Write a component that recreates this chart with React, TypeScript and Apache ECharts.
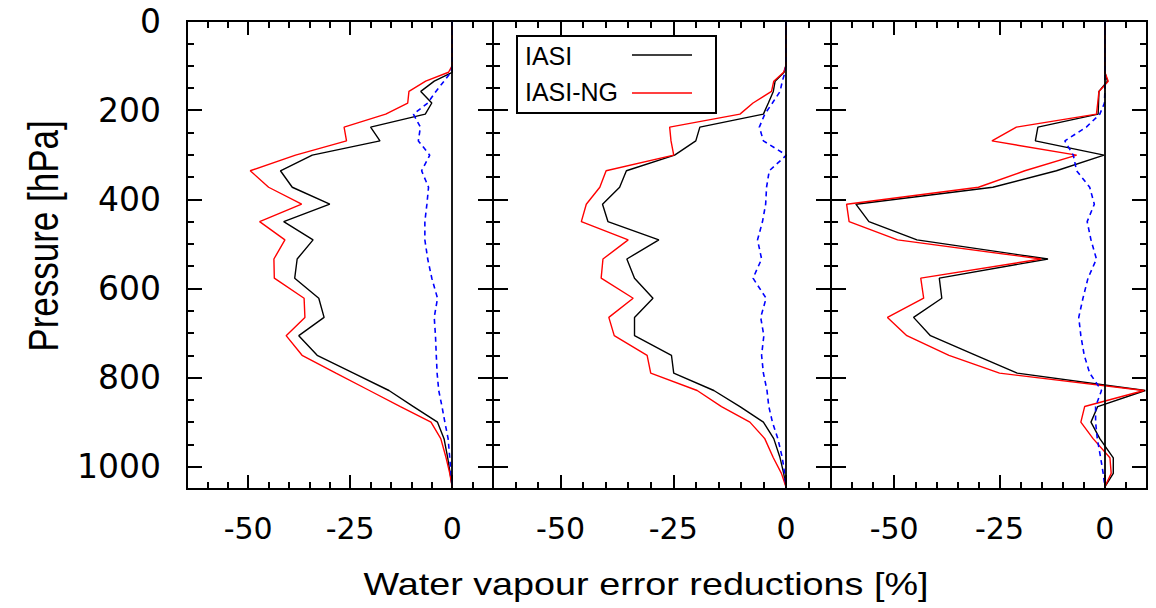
import React, { useEffect, useRef } from "react";
import * as echarts from "echarts";

// Pressure levels [hPa] shared by all profiles
const PRESSURE = [0, 100, 115, 135, 158, 184, 209, 238, 269, 301, 336, 373, 411, 450, 491, 534, 577, 622, 665, 706, 750, 790, 829, 865, 900, 937, 980, 1015, 1045];

// Panel 1
const IASI_1 = [0, 0, 0, -4.4, -7.7, -5.0, -6.6, -20.0, -17.7, -34.3, -42.1, -39.2, -30.0, -41.3, -34.1, -38.0, -38.6, -32.7, -31.4, -37.6, -33.1, -24.2, -15.5, -9.5, -3.6, -2.0, -1.1, -0.5, 0];
const IASING_1 = [0, 0, -0.9, -6.5, -10.6, -10.9, -16.3, -26.5, -25.9, -38.4, -49.5, -45.0, -36.9, -47.2, -41.0, -43.7, -43.6, -36.3, -36.1, -40.7, -36.8, -28.5, -20.3, -12.7, -5.2, -2.8, -1.5, -0.6, 0];
const DIFF_1 = [0, 0, -0.3, -2.0, -4.0, -6.0, -9.5, -7.8, -8.3, -5.5, -7.5, -5.8, -6.2, -6.7, -6.7, -6.0, -5.0, -3.6, -4.4, -4.1, -3.9, -3.7, -3.3, -2.5, -1.8, -1.0, -0.6, -0.3, 0];

// Panel 2
const IASI_2 = [0, 0, -0.4, -2.4, -2.8, -3.9, -5.0, -19.1, -20.0, -24.7, -35.4, -36.9, -40.7, -39.5, -28.2, -35.3, -33.6, -29.5, -33.6, -33.6, -25.4, -24.9, -16.0, -10.2, -5.0, -2.7, -1.3, -0.5, 0];
const IASING_2 = [0, 0, -0.5, -2.7, -3.2, -7.3, -10.2, -25.8, -25.5, -24.9, -39.9, -41.3, -44.3, -45.4, -35.0, -40.6, -41.0, -33.9, -39.3, -38.1, -30.8, -30.0, -19.7, -14.3, -8.0, -4.7, -2.8, -1.0, 0];
const DIFF_2 = [0, 0, -0.2, -0.8, -1.3, -3.0, -4.7, -5.9, -5.0, 0.1, -3.7, -4.3, -4.5, -5.2, -6.3, -5.4, -7.3, -4.4, -5.6, -4.9, -5.4, -5.0, -4.2, -3.8, -3.0, -1.8, -0.8, -0.3, 0];

// Panel 3
const IASI_3 = [0, 0, 0, 0.6, -1.4, -1.5, -1.6, -15.9, -16.5, -0.2, -11.5, -26.6, -59.1, -56.0, -44.6, -13.5, -39.3, -38.7, -45.4, -41.4, -30.6, -20.8, 9.6, -1.7, -3.3, -1.2, 2.0, 2.0, 0];
const IASING_3 = [0, 0, 0, 0.8, -1.4, -1.7, -2.0, -21.0, -26.8, -6.7, -19.0, -30.0, -61.3, -60.7, -49.2, -15.1, -43.7, -43.0, -51.6, -47.0, -37.0, -25.0, 9.3, -4.8, -5.7, -2.8, 1.2, 1.5, 0];
const DIFF_3 = [0, 0, 0, 0, 0, -0.1, -1.2, -4.4, -9.5, -7.5, -6.7, -3.6, -2.5, -4.2, -3.3, -2.0, -4.0, -5.2, -6.2, -5.7, -4.9, -3.6, -0.8, -2.2, -2.2, -1.8, -1.0, -0.4, 0];

const PANEL_DATA = [
  { iasi: IASI_1, ng: IASING_1, diff: DIFF_1 },
  { iasi: IASI_2, ng: IASING_2, diff: DIFF_2 },
  { iasi: IASI_3, ng: IASING_3, diff: DIFF_3 },
];

// Axis ticks and labels
const X_MAJOR = [-50, -25, 0];
const X_MINOR = [-65, -60, -55, -50, -45, -40, -35, -30, -25, -20, -15, -10, -5, 0, 5, 10];
const Y_MAJOR = [0, 200, 400, 600, 800, 1000];
const Y_MINOR = [0, 50, 100, 150, 200, 250, 300, 350, 400, 450, 500, 550, 600, 650, 700, 750, 800, 850, 900, 950, 1000, 1050];
const X_RANGE = [-65, 10];
const Y_RANGE = [0, 1050];

const X_TITLE = "Water vapour error reductions [%]";
const Y_TITLE = "Pressure [hPa]";
const LEGEND = ["IASI", "IASI-NG"];

// Layout
const GRID_TOP = 21;
const GRID_HEIGHT = 468;
const PANELS = [
  { left: 187, width: 306 },
  { left: 493, width: 338 },
  { left: 831, width: 316 },
];

function buildOption() {
  const grid = PANELS.map((p) => ({
    left: p.left,
    width: p.width,
    top: GRID_TOP,
    height: GRID_HEIGHT,
    show: true,
    borderColor: "#000",
    borderWidth: 2,
    backgroundColor: "transparent",
  }));

  const xAxis: any[] = [];
  const yAxis: any[] = [];
  PANELS.forEach((_, g) => {
    const mkX = (position: string, ticks: number[], len: number, labels: boolean) => ({
      type: "value",
      gridIndex: g,
      position,
      min: X_RANGE[0],
      max: X_RANGE[1],
      axisLine: { show: false, onZero: false },
      splitLine: { show: false },
      axisTick: {
        show: true,
        inside: true,
        length: len,
        customValues: ticks,
        lineStyle: { color: "#000", width: 2 },
      },
      axisLabel: labels
        ? {
            show: true,
            customValues: X_MAJOR,
            fontSize: 30,
            fontFamily: "DejaVu Sans",
            color: "#000",
            margin: 24,
            formatter: (v: number) => String(v),
          }
        : { show: false },
    });
    xAxis.push(mkX("bottom", X_MAJOR, 14, true));
    xAxis.push(mkX("bottom", X_MINOR, 7, false));
    xAxis.push(mkX("top", X_MAJOR, 14, false));
    xAxis.push(mkX("top", X_MINOR, 7, false));

    const mkY = (position: string, ticks: number[], len: number, labels: boolean) => ({
      type: "value",
      gridIndex: g,
      position,
      inverse: true,
      min: Y_RANGE[0],
      max: Y_RANGE[1],
      axisLine: { show: false, onZero: false },
      splitLine: { show: false },
      axisTick: {
        show: true,
        inside: true,
        length: len,
        customValues: ticks,
        lineStyle: { color: "#000", width: 2 },
      },
      axisLabel: labels
        ? {
            show: true,
            customValues: Y_MAJOR,
            fontSize: 33,
            fontFamily: "DejaVu Sans",
            color: "#000",
            margin: 26,
            formatter: (v: number) => String(v),
          }
        : { show: false },
    });
    yAxis.push(mkY("left", Y_MAJOR, 15, g === 0));
    yAxis.push(mkY("left", Y_MINOR, 7, false));
    yAxis.push(mkY("right", Y_MAJOR, 15, false));
    yAxis.push(mkY("right", Y_MINOR, 7, false));
  });

  const series: any[] = [];
  PANEL_DATA.forEach((d, g) => {
    const common = {
      type: "line",
      xAxisIndex: 4 * g,
      yAxisIndex: 4 * g,
      showSymbol: false,
      symbol: "none",
      silent: true,
    };
    series.push({
      ...common,
      name: LEGEND[0],
      z: 2,
      data: PRESSURE.map((p, i) => [d.iasi[i], p]),
      lineStyle: { color: "#000", width: 1.4 },
      markLine: {
        silent: true,
        symbol: ["none", "none"],
        label: { show: false },
        lineStyle: { color: "#000", width: 1.8, type: "solid" },
        data: [{ xAxis: 0 }],
      },
    });
    series.push({
      ...common,
      name: LEGEND[1],
      z: 3,
      data: PRESSURE.map((p, i) => [d.ng[i], p]),
      lineStyle: { color: "#ff0000", width: 1.4 },
    });
    series.push({
      ...common,
      name: "diff",
      z: 4,
      data: PRESSURE.map((p, i) => [d.diff[i], p]),
      lineStyle: { color: "#0000ff", width: 1.6, type: [5, 4] },
    });
  });

  const graphic: any[] = [
    {
      type: "text",
      x: 646,
      y: 584,
      scaleX: 1.18,
      style: {
        text: X_TITLE,
        fontSize: 32,
        fontFamily: "Liberation Sans",
        fill: "#000",
        textAlign: "center",
        textVerticalAlign: "middle",
      },
    },
    {
      type: "text",
      x: 43,
      y: 236,
      rotation: Math.PI / 2,
      scaleY: 1.2,
      style: {
        text: Y_TITLE,
        fontSize: 35,
        fontFamily: "Liberation Sans",
        fill: "#000",
        textAlign: "center",
        textVerticalAlign: "middle",
      },
    },
    {
      type: "rect",
      shape: { x: 517, y: 36, width: 199, height: 77 },
      style: { fill: "#fff", stroke: "#000", lineWidth: 2 },
      z: 50,
    },
    {
      type: "text",
      x: 525,
      y: 56,
      z: 51,
      style: {
        text: LEGEND[0],
        fontSize: 25,
        fontFamily: "Liberation Sans",
        fill: "#000",
        textAlign: "left",
        textVerticalAlign: "middle",
      },
    },
    {
      type: "line",
      z: 51,
      shape: { x1: 632, y1: 55, x2: 692, y2: 55 },
      style: { stroke: "#000", lineWidth: 1.4 },
    },
    {
      type: "text",
      x: 525,
      y: 92,
      z: 51,
      style: {
        text: LEGEND[1],
        fontSize: 25,
        fontFamily: "Liberation Sans",
        fill: "#000",
        textAlign: "left",
        textVerticalAlign: "middle",
      },
    },
    {
      type: "line",
      z: 51,
      shape: { x1: 632, y1: 93, x2: 692, y2: 93 },
      style: { stroke: "#ff0000", lineWidth: 1.4 },
    },
  ];

  return {
    animation: false,
    backgroundColor: "#fff",
    grid,
    xAxis,
    yAxis,
    series,
    graphic,
  };
}

export default function App() {
  const ref = useRef<HTMLDivElement | null>(null);
  useEffect(() => {
    if (!ref.current) return;
    const chart = echarts.init(ref.current, undefined, { renderer: "svg" });
    chart.setOption(buildOption() as any);
    return () => chart.dispose();
  }, []);
  return (
    <div
      ref={ref}
      style={{ position: "absolute", left: 0, top: 0, width: 1156, height: 608 }}
    />
  );
}
